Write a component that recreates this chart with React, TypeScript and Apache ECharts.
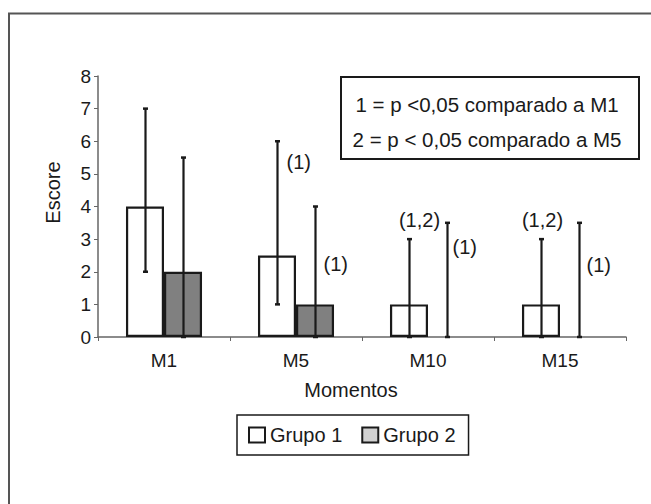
import React, { useEffect, useRef } from "react";
import * as echarts from "echarts";

// ---- data ----
const categories = ["M1", "M5", "M10", "M15"];
const seriesNames = ["Grupo 1", "Grupo 2"];
const grupo1 = [4, 2.5, 1, 1];
const grupo2 = [2, 1, 0, 0];
const grupo1Low = [2, 1, 0, 0];
const grupo1High = [7, 6, 3, 3];
const grupo2Low = [0, 0, 0, 0];
const grupo2High = [5.5, 4, 3.5, 3.5];
const grupo1Sig = ["", "(1)", "(1,2)", "(1,2)"];
const grupo2Sig = ["", "(1)", "(1)", "(1)"];
const noteLines = ["1 = p <0,05 comparado a M1", "2 = p < 0,05 comparado a M5"];
const yMin = 0;
const yMax = 8;
const yInterval = 1;
const xTitle = "Momentos";
const yTitle = "Escore";

// ---- styles / layout ----
const FONT = "'Liberation Sans', Arial, Helvetica, sans-serif";
const INK = "#1a1a1a";
const BAR_FRAC = 0.288;
const SIG_LAYOUT: any[][] = [
  [null, { dx: 9, dy: 21, align: "left" }, { dx: 10, dy: -19, align: "center" }, { dx: 1, dy: -19, align: "center" }],
  [null, { dx: 8, dy: 57, align: "left" }, { dx: 5, dy: 24, align: "left" }, { dx: 7, dy: 42, align: "left" }],
];

const lows = [grupo1Low, grupo2Low];
const highs = [grupo1High, grupo2High];
const sigs = [grupo1Sig, grupo2Sig];

function errorSeries(g: number) {
  return {
    type: "custom",
    name: "err" + g,
    z: 5,
    silent: true,
    encode: { x: 0, y: [1, 2] },
    data: categories.map((_, i) => [i, lows[g][i], highs[g][i]]),
    renderItem: (params: any, api: any) => {
      const cat = api.value(0);
      const lo = api.value(1);
      const hi = api.value(2);
      const band = api.size([1, 0])[0];
      const cLo = api.coord([cat, lo]);
      const cHi = api.coord([cat, hi]);
      const x = Math.round(cLo[0] + (g === 0 ? -1 : 1) * band * BAR_FRAC / 2) + 0.5;
      const yLo = cLo[1];
      const yHi = cHi[1];
      const st = { stroke: INK, lineWidth: 2.2 };
      const children: any[] = [
        { type: "line", shape: { x1: x, y1: yLo, x2: x, y2: yHi }, style: st },
        { type: "line", shape: { x1: x - 2.5, y1: yHi, x2: x + 2.5, y2: yHi }, style: { stroke: INK, lineWidth: 2.5 } },
        { type: "line", shape: { x1: x - 2.5, y1: yLo, x2: x + 2.5, y2: yLo }, style: { stroke: INK, lineWidth: 2.5 } },
      ];
      const txt = sigs[g][cat];
      const lay = SIG_LAYOUT[g][cat];
      if (txt && lay) {
        children.push({
          type: "text",
          x: x + lay.dx,
          y: yHi + lay.dy,
          style: {
            text: txt,
            fill: INK,
            fontSize: 20,
            fontFamily: FONT,
            align: lay.align,
            verticalAlign: "middle",
          },
        });
      }
      return { type: "group", children };
    },
  };
}

export default function App() {
  const ref = useRef<HTMLDivElement>(null);
  useEffect(() => {
    if (!ref.current) return;
    const chart = echarts.init(ref.current, undefined, { renderer: "svg" });
    const barData = (arr: number[]) =>
      arr.map((v) => (v === 0 ? { value: v, itemStyle: { borderWidth: 0 } } : v));
    chart.setOption({
      animation: false,
      backgroundColor: "#ffffff",
      textStyle: { fontFamily: FONT },
      grid: { left: 98, right: 25, top: 76, bottom: 167 },
      legend: {
        data: [
          { name: seriesNames[0], itemStyle: { color: "#ffffff", borderColor: INK, borderWidth: 2 } },
          { name: seriesNames[1], itemStyle: { color: "#d0d0d0", borderColor: INK, borderWidth: 2 } },
        ],
        left: 237,
        top: 415,
        icon: "rect",
        itemWidth: 16,
        itemHeight: 15,
        itemGap: 19,
        padding: [10, 13, 10, 11],
        borderColor: INK,
        borderWidth: 1.5,
        textStyle: { fontSize: 20, color: INK, fontFamily: FONT },
      },
      xAxis: {
        type: "category",
        data: categories,
        name: xTitle,
        nameLocation: "middle",
        nameGap: 43,
        nameTextStyle: { fontSize: 20, color: INK, fontFamily: FONT, padding: [0, 22, 0, 0] },
        axisLine: { lineStyle: { color: "#666", width: 1.5 } },
        axisTick: { show: true, alignWithLabel: false, length: 4, lineStyle: { color: "#666" } },
        axisLabel: { fontSize: 19, color: INK, margin: 14, fontFamily: FONT },
      },
      yAxis: {
        type: "value",
        min: yMin,
        max: yMax,
        interval: yInterval,
        name: yTitle,
        nameLocation: "middle",
        nameRotate: 90,
        nameGap: 35,
        nameTextStyle: { fontSize: 20, color: INK, fontFamily: FONT, padding: [0, 0, 0, 28] },
        axisLine: { show: true, lineStyle: { color: "#666", width: 1.5 } },
        axisTick: { show: true, length: 4, lineStyle: { color: "#666" } },
        axisLabel: { fontSize: 19, color: INK, margin: 7, fontFamily: FONT },
        splitLine: { show: false },
      },
      series: [
        {
          type: "bar",
          name: seriesNames[0],
          data: barData(grupo1),
          barWidth: (BAR_FRAC * 100).toFixed(1) + "%",
          barGap: "0%",
          itemStyle: { color: "#ffffff", borderColor: INK, borderWidth: 2.2 },
          z: 2,
        },
        {
          type: "bar",
          name: seriesNames[1],
          data: barData(grupo2),
          barWidth: (BAR_FRAC * 100).toFixed(1) + "%",
          barGap: "0%",
          itemStyle: { color: "#808080", borderColor: INK, borderWidth: 2.2 },
          z: 2,
        },
        errorSeries(0),
        errorSeries(1),
      ],
      graphic: [
        {
          type: "polyline",
          shape: { points: [[9, 504], [9, 13.5], [651, 13.5]] },
          style: { stroke: "#555", lineWidth: 2, fill: "none" },
          silent: true,
        },
        {
          type: "group",
          left: 340,
          top: 76,
          children: [
            {
              type: "rect",
              shape: { x: 0, y: 0, width: 298, height: 82 },
              style: { fill: "#ffffff", stroke: INK, lineWidth: 2 },
            },
            {
              type: "text",
              x: 146,
              y: 27,
              style: { text: noteLines[0], fill: INK, fontSize: 20.5, fontFamily: FONT, align: "center", verticalAlign: "middle" },
            },
            {
              type: "text",
              x: 146,
              y: 62,
              style: { text: noteLines[1], fill: INK, fontSize: 20.5, fontFamily: FONT, align: "center", verticalAlign: "middle" },
            },
          ],
        },
      ],
    });
    return () => chart.dispose();
  }, []);
  return <div ref={ref} style={{ position: "fixed", left: 0, top: 0, width: 651, height: 504 }} />;
}
